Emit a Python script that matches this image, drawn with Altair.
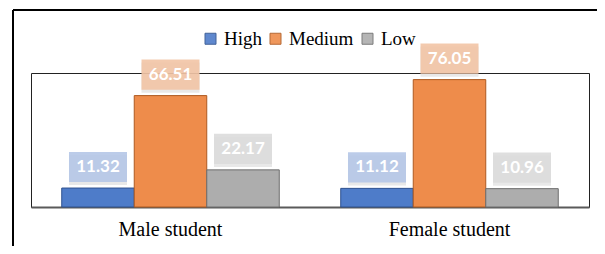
import altair as alt
import pandas as pd

groups = ["Male student", "Female student"]
levels = ["High", "Medium", "Low"]
male_values = [11.32, 66.51, 22.17]
female_values = [11.12, 76.05, 10.96]

fills = ["#4E7CC9", "#EE8C4B", "#ADADAD"]
strokes = ["#2F528F", "#AE5A21", "#6E6E6E"]
box_fills = ["#B5C7E7", "#F2C4A5", "#DCDCDC"]

rows = []
for g, vals in zip(groups, [male_values, female_values]):
    for i, (lvl, v) in enumerate(zip(levels, vals)):
        rows.append({"group": g, "level": lvl, "value": v, "label": f"{v:.2f}",
                     "stroke_col": strokes[i], "box_col": box_fills[i]})
df = pd.DataFrame(rows)

x_enc = alt.X("group:N", sort=groups, title=None,
              scale=alt.Scale(paddingInner=0, paddingOuter=0),
              axis=alt.Axis(labelAngle=0, labelFont="Liberation Serif", labelFontSize=20,
                            labelColor="#000", labelPadding=12, ticks=False,
                            domainColor="#5A5A5A", domainWidth=2, grid=False))
xo_enc = alt.XOffset("level:N", sort=levels,
                     scale=alt.Scale(paddingInner=0, paddingOuter=0.424))
y_enc = alt.Y("value:Q", scale=alt.Scale(domain=[0, 80], nice=False), axis=None)

base = alt.Chart(df)

stroke_expr = ("datum.value === 'High' ? '#2F528F' : "
               "datum.value === 'Medium' ? '#AE5A21' : '#6E6E6E'")

bars = base.mark_bar(strokeWidth=1).encode(
    x=x_enc, xOffset=xo_enc, y=y_enc,
    fill=alt.Fill("level:N", sort=levels, scale=alt.Scale(domain=levels, range=fills),
                  legend=alt.Legend(title=None, orient="none", direction="horizontal",
                                    legendX=170, legendY=-44, symbolType="square",
                                    symbolSize=121, symbolStrokeWidth=1,
                                    symbolOpacity=1,
                                    symbolStrokeColor=alt.ExprRef(expr=stroke_expr),
                                    labelOffset=4, columnPadding=4)),
    stroke=alt.Stroke("stroke_col:N", scale=None),
)

box_shape = "M-1,-0.52L1,-0.52L1,0.52L-1,0.52Z"

shadow = base.mark_point(shape=box_shape, size=3364, filled=True, opacity=0.18,
                         color="#808080", yOffset=-18, xOffset=3).encode(
    x=x_enc, xOffset=xo_enc, y=y_enc)

boxes = base.mark_point(shape=box_shape, size=3364, filled=True, opacity=0.9,
                        yOffset=-21).encode(
    x=x_enc, xOffset=xo_enc, y=y_enc,
    fill=alt.Fill("box_col:N", scale=None),
)

texts = base.mark_text(font="Lato", fontWeight="bold", fontSize=17, color="white",
                       baseline="middle", dy=-21).encode(
    x=x_enc, xOffset=xo_enc, y=y_enc, text="label:N")

one = pd.DataFrame({"a": [0]})
frame_top = alt.Chart(one).mark_rule(stroke="#000", strokeWidth=2).encode(
    x=alt.value(-18), x2=alt.value(640), y=alt.value(-63))
frame_left = alt.Chart(one).mark_rule(stroke="#000", strokeWidth=2).encode(
    x=alt.value(-18), y=alt.value(-63), y2=alt.value(400))

chart = alt.layer(frame_top, frame_left, bars, shadow, boxes, texts).properties(
    width=558, height=134,
    autosize=alt.AutoSizeParams(type="none"),
    padding={"left": 23, "top": 65, "right": 8, "bottom": 39},
    background="white",
).configure_view(stroke="#222", strokeWidth=1).configure_legend(
    labelFont="Liberation Serif", labelFontSize=19, labelColor="#000"
)

chart.save("out.html", embed_options={"renderer": "svg", "actions": False})
